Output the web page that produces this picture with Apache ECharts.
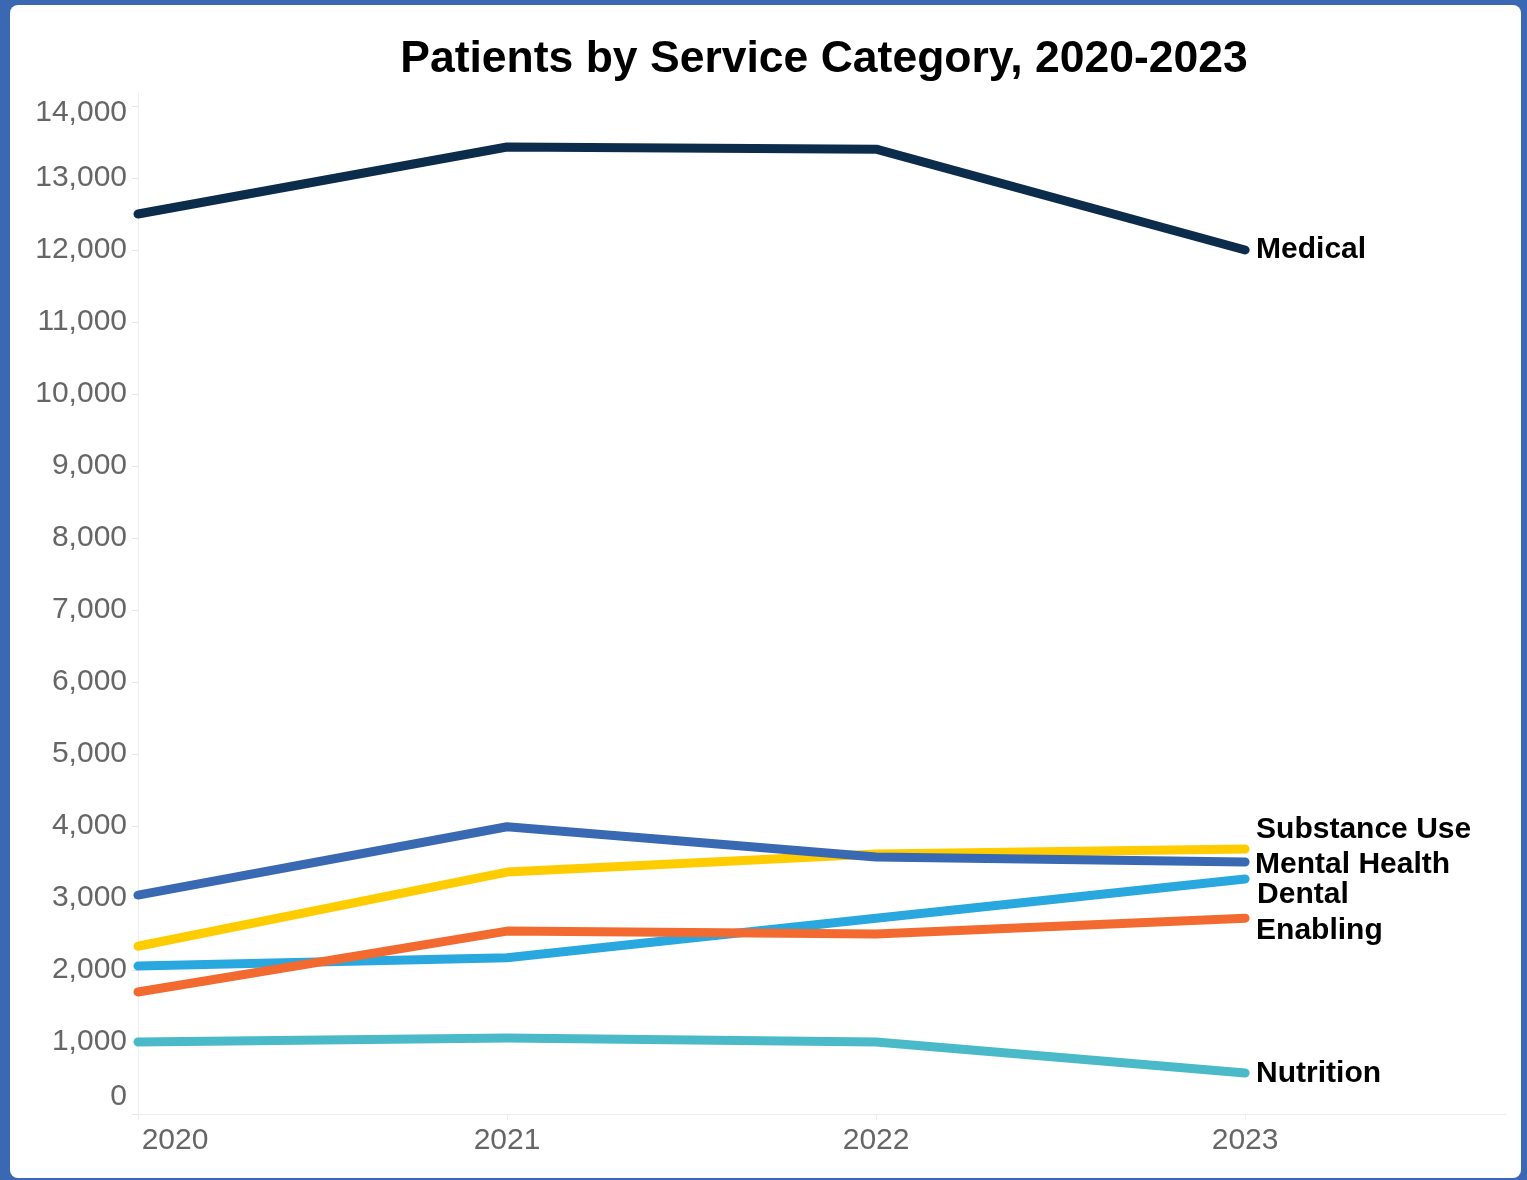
<!DOCTYPE html>
<html>
<head>
<meta charset="utf-8">
<script src="https://cdn.jsdelivr.net/npm/echarts@6/dist/echarts.min.js"></script>
<style>
  html, body { margin: 0; padding: 0; background: #3b68b2; width: 1527px; height: 1180px; overflow: hidden; }
  #panel { position: absolute; left: 10px; top: 5px; width: 1511px; height: 1173px; background: #ffffff; border-radius: 8px; }
  #chart { position: absolute; left: 0; top: 0; width: 1527px; height: 1180px; }
</style>
</head>
<body>
<div id="panel"></div>
<div id="chart"></div>
<script>
const years = [2020, 2021, 2022, 2023];
const medical = [12500, 13430, 13400, 12000];
const substanceUse = [2330, 3360, 3610, 3680];
const mentalHealth = [3040, 3990, 3570, 3500];
const dental = [2055, 2170, 2720, 3265];
const enabling = [1695, 2540, 2500, 2720];
const nutrition = [1000, 1055, 1000, 570];
const yTicks = [0, 1000, 2000, 3000, 4000, 5000, 6000, 7000, 8000, 9000, 10000, 11000, 12000, 13000, 14000];

const seriesDefs = [
  { name: 'Medical', data: medical, color: '#0b2d4b', offset: [1, 0] },
  { name: 'Substance Use', data: substanceUse, color: '#ffcc00', offset: [1, -19] },
  { name: 'Mental Health', data: mentalHealth, color: '#3a69b4', offset: [0, 3] },
  { name: 'Dental', data: dental, color: '#29a8e0', offset: [2, 16] },
  { name: 'Enabling', data: enabling, color: '#f26a30', offset: [1, 13] },
  { name: 'Nutrition', data: nutrition, color: '#4bbac8', offset: [1, 1] }
];

const font = "'Liberation Sans', Arial, sans-serif";
const chart = echarts.init(document.getElementById('chart'), null, { renderer: 'canvas' });

chart.setOption({
  backgroundColor: 'transparent',
  animation: false,
  title: {
    text: 'Patients by Service Category, 2020-2023',
    left: 819, top: 32, textAlign: 'center',
    textStyle: { fontFamily: font, fontSize: 44.5, fontWeight: 'bold', color: '#000' }
  },
  grid: { left: 138, right: 21, top: 93, bottom: 66, containLabel: false },
  xAxis: {
    type: 'value',
    min: 2020, max: 2023.707, interval: 1,
    axisLine: { show: true, lineStyle: { color: '#ededed', width: 1 } },
    axisTick: { show: true, length: 6, lineStyle: { color: '#ededed' } },
    splitLine: { show: false },
    axisLabel: {
      margin: 12,
      fontFamily: font, fontSize: 30, color: '#666',
      showMaxLabel: false,
      formatter: v => {
        if (Math.abs(v - Math.round(v)) > 1e-6) return '';
        const y = Math.round(v);
        if (years.indexOf(y) < 0) return '';
        return y === years[0] ? '{f|' + y + '}' : String(y);
      },
      rich: { f: { fontFamily: font, fontSize: 30, color: '#666', padding: [0, 0, 0, 74] } }
    }
  },
  yAxis: {
    type: 'value',
    min: 0, max: 14180, interval: 1000,
    axisLine: { show: true, lineStyle: { color: '#ededed', width: 1 } },
    axisTick: { show: true, length: 6, lineStyle: { color: '#e6e6e6' } },
    splitLine: { show: false },
    axisLabel: {
      margin: 11,
      fontFamily: font, fontSize: 30, color: '#666',
      showMaxLabel: false,
      formatter: v => {
        if (yTicks.indexOf(v) < 0) return '';
        if (v === 0) return '{z|0}';
        if (v === yTicks[yTicks.length - 1]) return '{t|' + v.toLocaleString('en-US') + '}';
        return v.toLocaleString('en-US');
      },
      rich: {
        z: { fontFamily: font, fontSize: 30, color: '#666', padding: [0, 0, 34, 0] },
        t: { fontFamily: font, fontSize: 30, color: '#666', padding: [14, 0, 0, 0] }
      }
    }
  },
  series: seriesDefs.map(s => ({
    name: s.name,
    type: 'line',
    data: years.map((y, i) => [y, s.data[i]]),
    symbol: 'none',
    smooth: false,
    lineStyle: { color: s.color, width: 9, cap: 'round', join: 'round' },
    itemStyle: { color: s.color },
    endLabel: {
      show: true,
      formatter: '{a}',
      distance: 10,
      offset: s.offset,
      fontFamily: font, fontSize: 30, fontWeight: 'bold', color: '#000'
    },
    z: 2
  }))
});
</script>
</body>
</html>
